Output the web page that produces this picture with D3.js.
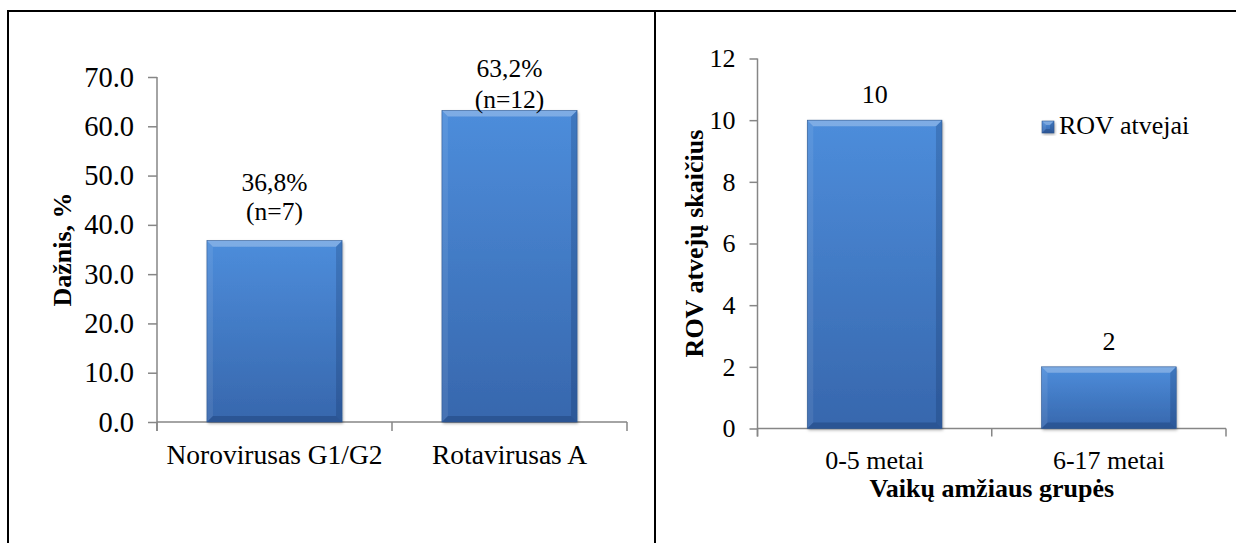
<!DOCTYPE html>
<html>
<head>
<meta charset="utf-8">
<script src="https://cdn.jsdelivr.net/npm/d3@7/dist/d3.min.js"></script>
<style>
  html, body { margin: 0; padding: 0; background: #fff; }
  svg { display: block; }
  svg text { font-family: "Liberation Serif", "DejaVu Serif", "Times New Roman", serif; fill: #000; }
</style>
</head>
<body>
<svg id="chart" width="1236" height="543"></svg>
<script>
// ---- data ----
const leftCategories = ["Norovirusas G1/G2", "Rotavirusas A"];
const leftValues = [36.8, 63.2];
const leftLabelTop = ["36,8%", "63,2%"];
const leftLabelBottom = ["(n=7)", "(n=12)"];
const leftTicks = [0, 10, 20, 30, 40, 50, 60, 70];
const leftYTitle = "Dažnis, %";

const rightCategories = ["0-5 metai", "6-17 metai"];
const rightValues = [10, 2];
const rightTicks = [0, 2, 4, 6, 8, 10, 12];
const rightYTitle = "ROV atvejų skaičius";
const rightXTitle = "Vaikų amžiaus grupės";
const legendLabel = "ROV atvejai";

// ---- setup ----
const svg = d3.select("#chart");
const FS = 26;
const FONT = '"Liberation Serif", "DejaVu Serif", serif';
const axisColor = "#868686";

const defs = svg.append("defs");
const grad = defs.append("linearGradient").attr("id", "barGrad")
  .attr("x1", 0).attr("y1", 0).attr("x2", 0).attr("y2", 1);
grad.append("stop").attr("offset", "0%").attr("stop-color", "#4d8ddb");
grad.append("stop").attr("offset", "100%").attr("stop-color", "#3767ad");
const shadow = defs.append("filter").attr("id", "shadow")
  .attr("x", "-10%").attr("y", "-10%").attr("width", "130%").attr("height", "130%");
shadow.append("feDropShadow").attr("dx", 1).attr("dy", 1.5)
  .attr("stdDeviation", 1.5).attr("flood-color", "#000").attr("flood-opacity", 0.35);

// frame
svg.append("line").attr("x1", 7).attr("x2", 1236).attr("y1", 11).attr("y2", 11)
  .attr("stroke", "#000").attr("stroke-width", 2);
svg.append("line").attr("x1", 8).attr("x2", 8).attr("y1", 10).attr("y2", 543)
  .attr("stroke", "#000").attr("stroke-width", 2);
svg.append("line").attr("x1", 655).attr("x2", 655).attr("y1", 10).attr("y2", 543)
  .attr("stroke", "#000").attr("stroke-width", 2);

function txt(sel, fs) {
  return sel.attr("font-family", FONT).style("font-family", FONT).style("font-size", (fs || FS) + "px");
}

function drawBar(g, x0, x1, y0, y1) {
  const b = Math.min(6, (y1 - y0) / 3);
  const grp = g.append("g");
  grp.append("rect").attr("x", x0).attr("y", y0).attr("width", x1 - x0).attr("height", y1 - y0)
    .attr("fill", "url(#barGrad)").attr("filter", "url(#shadow)");
  const poly = (pts, fill) => grp.append("polygon")
    .attr("points", pts.map(p => p.join(",")).join(" ")).attr("fill", fill);
  poly([[x0, y0], [x1, y0], [x1 - b, y0 + b], [x0 + b, y0 + b]], "rgba(255,255,255,0.28)");
  poly([[x0, y0], [x0 + b, y0 + b], [x0 + b, y1 - b], [x0, y1]], "rgba(255,255,255,0.08)");
  poly([[x1, y0], [x1 - b, y0 + b], [x1 - b, y1 - b], [x1, y1]], "rgba(0,20,60,0.18)");
  poly([[x0, y1], [x0 + b, y1 - b], [x1 - b, y1 - b], [x1, y1]], "rgba(0,20,60,0.22)");
  grp.append("rect").attr("x", x0).attr("y", y0).attr("width", x1 - x0).attr("height", y1 - y0)
    .attr("fill", "none").attr("stroke", "#2c5690").attr("stroke-width", 0.6);
}

function drawPanel(opts) {
  const g = svg.append("g");
  const x = d3.scaleBand().domain(opts.categories).range([opts.left, opts.right]).padding(0);
  const y = d3.scaleLinear().domain([opts.ticks[0], opts.ticks[opts.ticks.length - 1]])
    .range([opts.bottom, opts.top]);

  // y axis
  const ya = g.append("g").attr("transform", `translate(${opts.left},0)`)
    .call(d3.axisLeft(y).tickValues(opts.ticks).tickFormat(opts.fmt)
      .tickSizeInner(opts.tickLen).tickSizeOuter(0).tickPadding(opts.tickPad));
  ya.attr("font-family", FONT);
  ya.select(".domain").attr("stroke", axisColor).attr("stroke-width", 1.5)
    .attr("d", `M0,${opts.top}V${opts.bottom + opts.tickLen}`);
  ya.selectAll(".tick line").attr("stroke", axisColor).attr("stroke-width", 1.5);
  txt(ya.selectAll(".tick text"), opts.tickFS).attr("fill", "#000");

  // x axis
  const xa = g.append("g").attr("transform", `translate(0,${opts.bottom})`);
  xa.append("line").attr("x1", opts.left).attr("x2", opts.right).attr("y1", 0).attr("y2", 0)
    .attr("stroke", axisColor).attr("stroke-width", 1.5);
  const edges = opts.categories.map(c => x(c)).concat([opts.right]);
  xa.selectAll("line.edge").data(edges).enter().append("line").attr("class", "edge")
    .attr("x1", d => d).attr("x2", d => d).attr("y1", 0).attr("y2", opts.tickLen)
    .attr("stroke", axisColor).attr("stroke-width", 1.5);
  txt(xa.selectAll("text.cat").data(opts.categories).enter().append("text").attr("class", "cat")
    .attr("x", d => x(d) + x.bandwidth() / 2).attr("y", opts.catBaseline)
    .attr("text-anchor", "middle"), opts.catFS).text(d => d);

  // bars
  const bw = x.bandwidth() * 0.575;
  opts.values.forEach((v, i) => {
    const c = opts.categories[i];
    const cx = x(c) + x.bandwidth() / 2;
    drawBar(g, cx - bw / 2, cx + bw / 2, y(v), y(0));
  });

  // y title
  txt(g.append("text")
    .attr("transform", `translate(${opts.yTitleX},${(opts.top + opts.bottom) / 2}) rotate(-90)`)
    .attr("text-anchor", "middle"), FS).style("font-weight", "bold")
    .text(opts.yTitle);

  return { g, x, y };
}

// ---- left panel ----
const L = drawPanel({
  categories: leftCategories, values: leftValues, ticks: leftTicks,
  fmt: d3.format(".1f"), left: 157, right: 627, top: 77, bottom: 422,
  tickLen: 9, tickPad: 14, catBaseline: 42, yTitle: leftYTitle, yTitleX: 71,
  tickFS: 28.5, catFS: 27.5
});
const labelAreaTop = 52;
leftValues.forEach((v, i) => {
  const c = leftCategories[i];
  const cx = L.x(c) + L.x.bandwidth() / 2;
  let b2 = L.y(v) - 21;
  let b1 = b2 - 29;
  const topEdge = b1 - 19;
  if (topEdge < labelAreaTop + 6) { const s = labelAreaTop + 6 - topEdge; b1 += s; b2 += s + 2; }
  txt(L.g.append("text").attr("x", cx).attr("y", b1).attr("text-anchor", "middle"), 25.5).text(leftLabelTop[i]);
  txt(L.g.append("text").attr("x", cx).attr("y", b2).attr("text-anchor", "middle"), 25.5).text(leftLabelBottom[i]);
});

// ---- right panel ----
const R = drawPanel({
  categories: rightCategories, values: rightValues, ticks: rightTicks,
  fmt: d3.format("d"), left: 757.5, right: 1226, top: 58.5, bottom: 428.5,
  tickLen: 8, tickPad: 14, catBaseline: 40, yTitle: rightYTitle, yTitleX: 703,
  tickFS: 26, catFS: 26
});
rightValues.forEach((v, i) => {
  const c = rightCategories[i];
  const cx = R.x(c) + R.x.bandwidth() / 2;
  txt(R.g.append("text").attr("x", cx).attr("y", R.y(v) - 17).attr("text-anchor", "middle")).text(v);
});
txt(R.g.append("text").attr("x", (757.5 + 1226) / 2).attr("y", 497).attr("text-anchor", "middle"))
  .style("font-weight", "bold").text(rightXTitle);

// legend
const lg = svg.append("g").attr("transform", "translate(1042,121)");
drawBar(lg, 0, 12, 0, 12);
txt(lg.append("text").attr("x", 17).attr("y", 12.5)).text(legendLabel);
</script>
</body>
</html>
